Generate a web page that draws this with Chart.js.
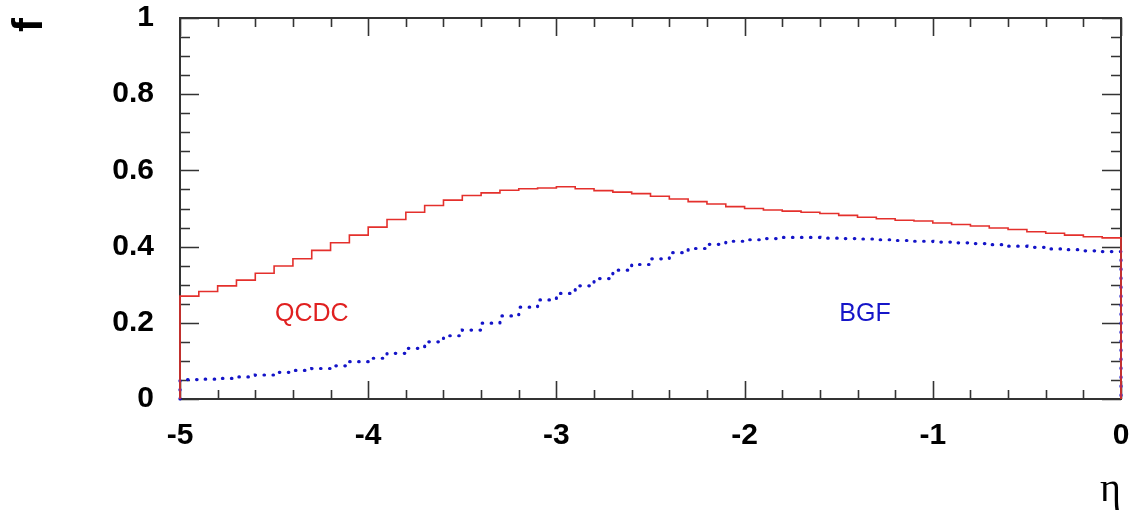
<!DOCTYPE html>
<html>
<head>
<meta charset="utf-8">
<script src="https://cdn.jsdelivr.net/npm/chart.js@4.4.1/dist/chart.umd.min.js"></script>
<style>
    html, body { margin: 0; padding: 0; background: #fff; }
    #wrap { width: 1130px; height: 516px; position: relative; }
</style>
</head>
<body>
<div id="wrap"><canvas id="fracChart"></canvas></div>
<script>
// Bins of eta from -5 to 0, width 0.1
const etaStart = -5;
const binWidth = 0.1;

// Fraction of QCDC events per bin (red solid histogram)
const qcdc = [0.270, 0.282, 0.297, 0.312, 0.330, 0.349, 0.368, 0.390, 0.410, 0.430,
              0.451, 0.471, 0.490, 0.508, 0.522, 0.534, 0.541, 0.548, 0.552, 0.554,
              0.557, 0.552, 0.547, 0.543, 0.539, 0.532, 0.525, 0.518, 0.512, 0.505,
              0.500, 0.496, 0.493, 0.490, 0.487, 0.482, 0.477, 0.473, 0.469, 0.467,
              0.462, 0.458, 0.454, 0.449, 0.445, 0.439, 0.435, 0.430, 0.426, 0.423];

// Fraction of BGF events per bin (blue dotted histogram)
const bgf = [0.051, 0.052, 0.054, 0.058, 0.063, 0.070, 0.075, 0.080, 0.087, 0.098,
             0.107, 0.120, 0.133, 0.150, 0.166, 0.181, 0.199, 0.218, 0.241, 0.260,
             0.277, 0.297, 0.316, 0.338, 0.353, 0.368, 0.384, 0.395, 0.406, 0.414,
             0.418, 0.421, 0.424, 0.424, 0.422, 0.421, 0.420, 0.418, 0.416, 0.414,
             0.412, 0.410, 0.408, 0.405, 0.401, 0.398, 0.394, 0.392, 0.389, 0.387];

// Text labels placed in data coordinates
const noteText = ['QCDC', 'BGF'];
const noteX = [-4.30, -1.36];
const noteY = [0.222, 0.222];
const noteColor = ['#e02020', '#1515c8'];

// Turns bin contents into a closed step outline (drops to 0 at both edges)
function histPoints(values) {
    const pts = [{ x: etaStart, y: 0 }];
    values.forEach((v, i) => {
        pts.push({ x: +(etaStart + i * binWidth).toFixed(2), y: v });
    });
    const end = +(etaStart + values.length * binWidth).toFixed(2);
    pts.push({ x: end, y: values[values.length - 1] });
    pts.push({ x: end, y: 0 });
    return pts;
}

// Frame with inward major/minor ticks on all four sides
const frameTicks = {
    id: 'frameTicks',
    beforeDatasetsDraw(chart) {
        const { ctx, chartArea: a, scales: { x, y } } = chart;
        ctx.save();
        ctx.strokeStyle = '#333';
        ctx.lineWidth = 2;
        ctx.strokeRect(a.left, a.top, a.right - a.left, a.bottom - a.top);
        ctx.lineWidth = 1.6;
        ctx.beginPath();
        for (let i = 0; i <= 25; i++) {
            const px = Math.round(x.getPixelForValue(-5 + i * 0.2)) + 0.5;
            const len = i % 5 === 0 ? 18 : 9;
            ctx.moveTo(px, a.bottom); ctx.lineTo(px, a.bottom - len);
            ctx.moveTo(px, a.top); ctx.lineTo(px, a.top + len);
        }
        for (let i = 0; i <= 20; i++) {
            const py = Math.round(y.getPixelForValue(i * 0.05)) + 0.5;
            const len = i % 4 === 0 ? 19 : 10;
            ctx.moveTo(a.left, py); ctx.lineTo(a.left + len, py);
            ctx.moveTo(a.right, py); ctx.lineTo(a.right - len, py);
        }
        ctx.stroke();
        ctx.restore();
    },
    afterDatasetsDraw(chart) {
        const { ctx, scales: { x, y } } = chart;
        ctx.save();
        ctx.font = '25px "Liberation Sans", Arial, sans-serif';
        ctx.textAlign = 'center';
        ctx.textBaseline = 'middle';
        noteText.forEach((t, i) => {
            ctx.fillStyle = noteColor[i];
            ctx.fillText(t, x.getPixelForValue(noteX[i]), y.getPixelForValue(noteY[i]));
        });
        ctx.restore();
    }
};

const tickFont = { family: '"Liberation Sans", Arial, sans-serif', size: 30, weight: 'bold' };
const fmt = (v) => String(+v.toFixed(1));

new Chart(document.getElementById('fracChart'), {
    type: 'line',
    data: {
        datasets: [
            {
                label: 'QCDC',
                data: histPoints(qcdc),
                stepped: true,
                borderColor: '#e4302c',
                borderWidth: 1.6,
                pointRadius: 0,
                fill: false,
                clip: false
            },
            {
                label: 'BGF',
                data: histPoints(bgf),
                stepped: true,
                borderColor: '#1414c8',
                borderWidth: 3.2,
                borderDash: [0.5, 8.5],
                borderCapStyle: 'round',
                pointRadius: 0,
                fill: false,
                clip: false
            }
        ]
    },
    options: {
        responsive: true,
        maintainAspectRatio: false,
        animation: false,
        layout: { padding: { top: 18, right: 9, left: 0, bottom: 0 } },
        plugins: {
            legend: { display: false },
            tooltip: { enabled: false }
        },
        scales: {
            x: {
                type: 'linear',
                min: -5,
                max: 0,
                grid: { display: false, drawTicks: false },
                border: { display: false },
                ticks: { stepSize: 1, color: '#000', font: tickFont, padding: 19, maxRotation: 0, callback: fmt },
                title: {
                    display: true,
                    text: 'η',
                    align: 'end',
                    color: '#000',
                    font: { family: '"Liberation Serif", "DejaVu Serif", serif', size: 40 },
                    padding: { top: 0, bottom: 2 }
                },
                afterFit: (scale) => {
                    scale.height = 117;
                    scale.paddingLeft = 0;
                    scale.paddingRight = 0;
                }
            },
            y: {
                min: 0,
                max: 1,
                grid: { display: false, drawTicks: false },
                border: { display: false },
                ticks: { stepSize: 0.2, color: '#000', font: tickFont, padding: 26, callback: fmt },
                title: {
                    display: true,
                    text: 'f',
                    align: 'end',
                    color: '#000',
                    font: { family: '"Liberation Sans", Arial, sans-serif', size: 42, weight: 'bold' },
                    padding: { top: 5, bottom: 0 }
                },
                afterFit: (scale) => {
                    scale.width = 180;
                    scale.paddingTop = 0;
                    scale.paddingBottom = 0;
                }
            }
        }
    },
    plugins: [frameTicks]
});
</script>
</body>
</html>
